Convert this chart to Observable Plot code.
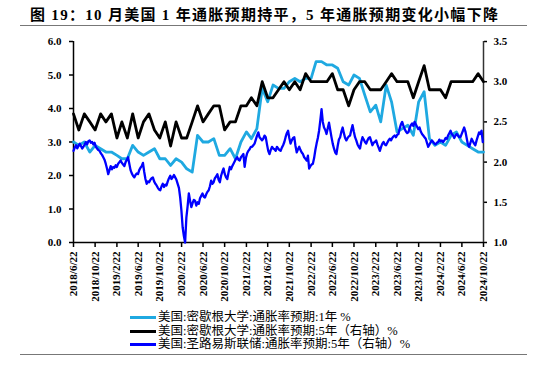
<!DOCTYPE html>
<html><head><meta charset="utf-8">
<script src="https://cdn.jsdelivr.net/npm/d3@7"></script>
<script src="https://cdn.jsdelivr.net/npm/@observablehq/plot@0.6"></script>
<style>
body{margin:0;background:#fff;}
#wrap{position:relative;width:547px;height:371px;overflow:hidden;background:#fff;}
#title{position:absolute;left:30px;top:3px;font-family:"Liberation Serif","Noto Sans CJK SC";font-weight:bold;font-size:15px;letter-spacing:1.3px;white-space:nowrap;color:#000;}
.hr{position:absolute;left:20px;width:507px;height:0;border-top:1.5px solid #777;}
#chart{position:absolute;left:0;top:30px;}
#legend{position:absolute;left:130px;top:311px;font-family:"Liberation Serif","Noto Sans CJK SC";font-size:12.5px;line-height:13.5px;color:#000;}
.item{display:flex;align-items:center;white-space:nowrap;height:13.5px;}
.sw{width:26px;height:3px;margin-right:2px;}
</style></head>
<body>
<div id="wrap">
  <div id="title">图 19：10 月美国 1 年通胀预期持平，5 年通胀预期变化小幅下降</div>
  <div class="hr" style="top:25px"></div>
  <div id="chart"></div>
  <div id="legend"></div>
  <div class="hr" style="top:354px"></div>
</div>
<script>
// ---- data ----
const seriesNames = [
  "美国:密歇根大学:通胀率预期:1年 %",
  "美国:密歇根大学:通胀率预期:5年（右轴）%",
  "美国:圣路易斯联储:通胀率预期:5年（右轴）%"
];
const seriesColors = ["#1FA9E1", "#000000", "#0000FF"];
const xTickLabels = ["2018/6/22","2018/10/22","2019/2/22","2019/6/22","2019/10/22","2020/2/22","2020/6/22","2020/10/22",
  "2021/2/22","2021/6/22","2021/10/22","2022/2/22","2022/6/22","2022/10/22","2023/2/22","2023/6/22","2023/10/22",
  "2024/2/22","2024/6/22","2024/10/22"];
const leftTicks = [0, 1, 2, 3, 4, 5, 6];
const rightTicks = [1.0, 1.5, 2.0, 2.5, 3.0, 3.5];
// monthly, 2018/6 .. 2024/10
const michigan1y = [
  3.0,2.9,3.0,2.7,2.9,2.8,2.7,
  2.7,2.6,2.5,2.5,2.9,2.7,2.6,2.7,2.8,2.5,2.5,2.3,
  2.5,2.4,2.2,2.1,3.2,3.0,3.0,3.1,2.6,2.6,2.8,2.5,
  3.0,3.3,3.1,3.4,4.6,4.2,4.7,4.6,4.6,4.8,4.9,4.8,
  4.9,4.9,5.4,5.4,5.3,5.3,5.2,4.8,4.7,5.0,4.9,4.4,
  3.9,4.1,3.6,4.7,4.2,3.3,3.4,3.5,3.2,4.2,4.5,3.1,
  2.9,3.0,2.9,3.2,3.3,3.0,2.9,2.8,2.7,2.7
];
const michigan5y = [
  2.6,2.4,2.6,2.5,2.4,2.6,2.5,
  2.6,2.3,2.5,2.3,2.6,2.3,2.5,2.6,2.4,2.3,2.5,2.2,
  2.5,2.3,2.3,2.5,2.7,2.5,2.6,2.7,2.7,2.4,2.5,2.5,
  2.7,2.7,2.8,2.7,3.0,2.8,2.8,2.9,3.0,2.9,3.0,2.9,
  3.1,3.0,3.0,3.0,3.0,3.1,2.9,2.9,2.7,2.9,3.0,3.0,
  2.9,2.9,2.9,3.0,3.1,3.0,3.0,3.0,2.8,3.0,3.2,2.9,
  2.9,2.9,2.8,3.0,3.0,3.0,3.0,3.0,3.1,3.0
];
// weekly from 2018/6/22
const stlouis5y = [
  2.14,2.18,2.21,2.17,2.20,2.23,2.20,2.17,2.19,2.22,
  2.25,2.22,2.26,2.27,2.24,2.25,2.22,2.24,2.19,2.17,
  2.15,2.14,2.11,2.09,2.06,2.03,1.98,1.92,1.85,1.90,
  1.95,1.91,1.94,1.93,1.96,1.94,1.98,2.00,2.02,1.99,
  1.97,1.95,2.00,2.03,2.06,1.98,1.90,1.86,1.83,1.81,
  1.84,1.86,1.85,1.90,1.93,1.95,1.99,1.88,1.79,1.73,
  1.76,1.75,1.78,1.80,1.81,1.76,1.73,1.71,1.68,1.66,
  1.65,1.70,1.73,1.69,1.72,1.71,1.76,1.80,1.83,1.79,
  1.81,1.84,1.81,1.78,1.73,1.68,1.56,1.40,1.19,1.08,
  1.00,1.31,1.45,1.61,1.52,1.44,1.49,1.53,1.52,1.46,
  1.50,1.48,1.55,1.58,1.61,1.57,1.56,1.60,1.63,1.65,
  1.70,1.77,1.73,1.75,1.80,1.82,1.85,1.78,1.75,1.83,
  1.88,1.92,1.85,1.81,1.79,1.87,1.94,1.91,1.95,1.98,
  2.01,2.04,2.06,2.03,2.02,2.06,2.08,2.10,1.94,2.05,
  2.11,2.14,2.16,2.19,2.19,2.21,2.23,2.28,2.33,2.37,
  2.31,2.29,2.27,2.29,2.33,2.31,2.22,2.14,2.10,2.15,
  2.19,2.17,2.16,2.14,2.19,2.17,2.15,2.14,2.18,2.21,
  2.25,2.31,2.36,2.39,2.30,2.23,2.27,2.30,2.31,2.20,
  2.12,2.16,2.19,2.15,2.12,2.10,2.06,2.04,2.02,2.08,
  1.92,1.95,1.97,1.98,2.05,2.15,2.23,2.30,2.39,2.52,
  2.66,2.50,2.43,2.40,2.35,2.42,2.49,2.40,2.31,2.23,
  2.17,2.12,2.10,2.20,2.28,2.31,2.38,2.43,2.36,2.30,
  2.27,2.30,2.32,2.33,2.40,2.46,2.38,2.31,2.27,2.22,
  2.19,2.17,2.25,2.31,2.28,2.25,2.23,2.27,2.30,2.31,
  2.26,2.21,2.24,2.25,2.27,2.22,2.18,2.14,2.19,2.23,
  2.25,2.22,2.21,2.24,2.27,2.29,2.27,2.30,2.32,2.33,
  2.31,2.34,2.35,2.42,2.47,2.50,2.45,2.41,2.38,2.36,
  2.37,2.42,2.46,2.48,2.45,2.50,2.47,2.44,2.41,2.43,
  2.38,2.35,2.33,2.31,2.29,2.24,2.19,2.22,2.25,2.27,
  2.25,2.23,2.22,2.24,2.25,2.28,2.26,2.27,2.25,2.27,
  2.30,2.29,2.33,2.36,2.39,2.35,2.33,2.30,2.33,2.35,
  2.33,2.31,2.31,2.35,2.39,2.43,2.38,2.30,2.22,2.19,
  2.24,2.29,2.26,2.23,2.21,2.27,2.32,2.37,2.35,2.39,
  2.25
];

// ---- build ----
const parseLabel = s => { const [y,m,d] = s.split("/").map(Number); return new Date(Date.UTC(y, m-1, d)); };
const xTicks = xTickLabels.map(parseLabel);
const fmt = d => `${d.getUTCFullYear()}/${d.getUTCMonth()+1}/${d.getUTCDate()}`;
const monthDate = i => new Date(Date.UTC(2018, 5 + i, 22));
const weekDate = i => new Date(Date.UTC(2018, 5, 22 + 7 * i));
const toLeft = v => Math.round((v - 1) * 2.4 * 1e9) / 1e9;
const fromLeft = v => (v / 2.4 + 1);

const d1 = michigan1y.map((v, i) => ({date: monthDate(i), v}));
const d2 = michigan5y.map((v, i) => ({date: monthDate(i), v: toLeft(v)}));
const d3s = stlouis5y.map((v, i) => ({date: weekDate(i), v: toLeft(v)}));
const xDomain = [xTicks[0], xTicks[xTicks.length - 1]];

const chart = Plot.plot({
  width: 547, height: 272,
  marginLeft: 73, marginRight: 64, marginTop: 11, marginBottom: 60,
  x: {type: "utc", domain: xDomain},
  y: {domain: [0, 6]},
  style: {fontFamily: "Liberation Serif", fontSize: "11px", fontWeight: "bold", color: "#000", background: "white"},
  marks: [
    Plot.axisY({ticks: leftTicks, tickFormat: d => d.toFixed(1), tickSize: 4, tickPadding: 8, label: null, strokeWidth: 1.5}),
    Plot.axisY({anchor: "right", ticks: rightTicks.map(toLeft), tickFormat: d => fromLeft(d).toFixed(1), tickSize: 3, tickPadding: 7, label: null, strokeWidth: 1.5}),
    Plot.axisX({ticks: xTicks, tickFormat: fmt, tickRotate: -90, tickSize: 5, tickPadding: 4, label: null, strokeWidth: 1.5}),
    Plot.ruleX([xDomain[0]], {stroke: "#000", strokeWidth: 1.5}),
    Plot.ruleX([xDomain[1]], {stroke: "#333", strokeWidth: 1.5}),
    Plot.ruleY([0], {stroke: "#000", strokeWidth: 1.5}),
    Plot.line(d1, {x: "date", y: "v", stroke: seriesColors[0], strokeWidth: 2.8}),
    Plot.line(d2, {x: "date", y: "v", stroke: seriesColors[1], strokeWidth: 2.8}),
    Plot.line(d3s, {x: "date", y: "v", stroke: seriesColors[2], strokeWidth: 2.3})
  ]
});
document.getElementById("chart").appendChild(chart);

const lg = document.getElementById("legend");
seriesNames.forEach((n, i) => {
  const it = document.createElement("div");
  it.className = "item";
  it.innerHTML = `<span class="sw" style="background:${seriesColors[i]}"></span><span>${n}</span>`;
  lg.appendChild(it);
});
</script>
</body></html>
